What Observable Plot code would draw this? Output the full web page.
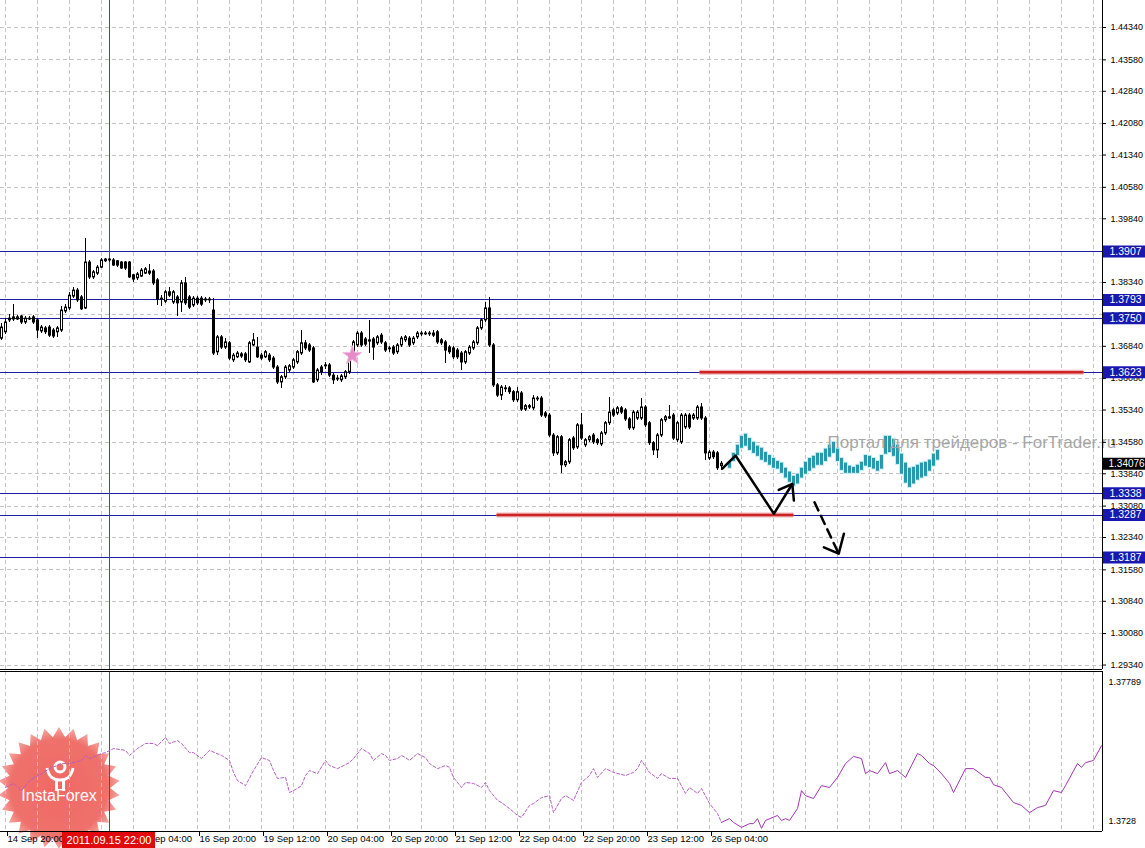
<!DOCTYPE html>
<html><head><meta charset="utf-8">
<script src="https://cdn.jsdelivr.net/npm/d3@7"></script>
<script src="https://cdn.jsdelivr.net/npm/@observablehq/plot@0.6"></script>
<style>
body{margin:0;background:#fff;}
#chart{width:1145px;height:848px;position:relative;overflow:hidden;background:#fff;}
#chart svg{display:block;}
</style></head><body><div id="chart"></div>
<script>
// ---------- DATA ----------
const firstBar = -1; // bar index of first candle (0 = 14 Sep 20:00, H1 bars)
const candleOpen = [
1.3702,1.3717,1.3745,1.3752,1.3747,1.3754,1.3740,1.3749,1.3752,1.3745,
1.3719,1.3726,1.3728,1.3721,1.3717,1.3721,1.3766,1.3773,1.3801,1.3815,
1.3799,1.3773,1.3881,1.3846,1.3855,1.3869,1.3884,1.3888,1.3886,1.3884,
1.3881,1.3881,1.3881,1.3851,1.3844,1.3848,1.3855,1.3860,1.3860,1.3839,
1.3796,1.3789,1.3811,1.3787,1.3799,1.3787,1.3832,1.3799,1.3780,1.3796,
1.3796,1.3794,1.3792,1.3768,1.3670,1.3705,1.3681,1.3691,1.3651,1.3658,
1.3665,1.3665,1.3646,1.3686,1.3681,1.3662,1.3658,1.3662,1.3655,1.3634,
1.3599,1.3611,1.3627,1.3634,1.3646,1.3667,1.3691,1.3686,1.3679,1.3604,
1.3634,1.3639,1.3639,1.3615,1.3608,1.3604,1.3611,1.3623,1.3662,1.3686,
1.3714,1.3700,1.3698,1.3700,1.3691,1.3709,1.3691,1.3679,1.3681,1.3670,
1.3686,1.3698,1.3702,1.3691,1.3705,1.3712,1.3714,1.3714,1.3714,1.3717,
1.3698,1.3693,1.3681,1.3679,1.3674,1.3667,1.3646,1.3667,1.3679,1.3691,
1.3726,1.3745,1.3773,1.3686,1.3592,1.3568,1.3585,1.3585,1.3576,1.3557,
1.3573,1.3535,1.3540,1.3538,1.3559,1.3561,1.3526,1.3521,1.3474,1.3432,
1.3470,1.3404,1.3411,1.3467,1.3446,1.3498,1.3451,1.3463,1.3474,1.3463,
1.3453,1.3479,1.3503,1.3533,1.3526,1.3538,1.3533,1.3512,1.3491,1.3514,
1.3514,1.3540,1.3503,1.3456,1.3439,1.3474,1.3510,1.3517,1.3521,1.3463,
1.3458,1.3493,1.3521,1.3514,1.3514,1.3540,1.3514,1.3420,1.3434,1.3432,
1.3402];
const candleHigh = [
1.3738,1.3749,1.3759,1.3782,1.3757,1.3757,1.3754,1.3754,1.3757,1.3749,
1.3733,1.3731,1.3733,1.3726,1.3731,1.3778,1.3782,1.3811,1.3822,1.3820,
1.3803,1.3938,1.3886,1.3862,1.3874,1.3890,1.3890,1.3890,1.3890,1.3886,
1.3884,1.3884,1.3884,1.3853,1.3858,1.3867,1.3869,1.3876,1.3865,1.3844,
1.3803,1.3815,1.3822,1.3815,1.3803,1.3839,1.3846,1.3803,1.3801,1.3801,
1.3801,1.3799,1.3799,1.3796,1.3709,1.3709,1.3702,1.3695,1.3667,1.3672,
1.3670,1.3670,1.3695,1.3714,1.3705,1.3667,1.3674,1.3667,1.3660,1.3639,
1.3615,1.3639,1.3641,1.3655,1.3674,1.3721,1.3698,1.3691,1.3684,1.3632,
1.3639,1.3646,1.3644,1.3620,1.3615,1.3618,1.3627,1.3667,1.3698,1.3719,
1.3719,1.3705,1.3745,1.3705,1.3709,1.3714,1.3695,1.3684,1.3686,1.3691,
1.3707,1.3709,1.3707,1.3707,1.3719,1.3719,1.3719,1.3719,1.3721,1.3721,
1.3702,1.3698,1.3686,1.3684,1.3679,1.3672,1.3674,1.3686,1.3698,1.3731,
1.3749,1.3787,1.3799,1.3691,1.3597,1.3592,1.3592,1.3590,1.3580,1.3587,
1.3578,1.3547,1.3547,1.3568,1.3566,1.3566,1.3531,1.3526,1.3479,1.3474,
1.3474,1.3416,1.3467,1.3472,1.3503,1.3526,1.3467,1.3474,1.3479,1.3467,
1.3484,1.3507,1.3564,1.3538,1.3543,1.3543,1.3538,1.3517,1.3533,1.3533,
1.3561,1.3545,1.3507,1.3460,1.3479,1.3514,1.3521,1.3545,1.3526,1.3507,
1.3526,1.3526,1.3526,1.3526,1.3545,1.3550,1.3519,1.3439,1.3439,1.3437,
1.3413];
const candleLow = [
1.3698,1.3712,1.3740,1.3742,1.3745,1.3735,1.3735,1.3745,1.3735,1.3702,
1.3714,1.3712,1.3705,1.3702,1.3705,1.3717,1.3761,1.3768,1.3796,1.3787,
1.3768,1.3771,1.3841,1.3841,1.3851,1.3867,1.3881,1.3881,1.3872,1.3869,
1.3865,1.3862,1.3844,1.3834,1.3839,1.3846,1.3853,1.3851,1.3827,1.3780,
1.3778,1.3785,1.3799,1.3782,1.3754,1.3764,1.3780,1.3771,1.3775,1.3780,
1.3778,1.3787,1.3785,1.3662,1.3662,1.3677,1.3677,1.3651,1.3646,1.3655,
1.3655,1.3646,1.3644,1.3684,1.3655,1.3651,1.3655,1.3646,1.3630,1.3594,
1.3585,1.3606,1.3623,1.3630,1.3641,1.3662,1.3674,1.3670,1.3597,1.3599,
1.3615,1.3630,1.3611,1.3594,1.3601,1.3599,1.3606,1.3618,1.3658,1.3681,
1.3681,1.3684,1.3667,1.3651,1.3686,1.3688,1.3670,1.3670,1.3662,1.3665,
1.3681,1.3693,1.3681,1.3686,1.3700,1.3707,1.3709,1.3707,1.3705,1.3688,
1.3686,1.3644,1.3665,1.3653,1.3653,1.3627,1.3641,1.3662,1.3674,1.3686,
1.3721,1.3740,1.3681,1.3587,1.3564,1.3557,1.3576,1.3571,1.3552,1.3552,
1.3531,1.3531,1.3535,1.3533,1.3554,1.3517,1.3514,1.3470,1.3425,1.3427,
1.3385,1.3399,1.3406,1.3439,1.3442,1.3463,1.3446,1.3458,1.3453,1.3451,
1.3449,1.3474,1.3498,1.3517,1.3521,1.3524,1.3507,1.3486,1.3486,1.3510,
1.3510,1.3493,1.3451,1.3427,1.3420,1.3470,1.3505,1.3512,1.3463,1.3458,
1.3453,1.3488,1.3488,1.3510,1.3510,1.3510,1.3416,1.3416,1.3418,1.3392,
1.3392];
const candleClose = [
1.3728,1.3740,1.3749,1.3747,1.3752,1.3740,1.3749,1.3747,1.3740,1.3721,
1.3728,1.3717,1.3709,1.3707,1.3726,1.3768,1.3775,1.3803,1.3815,1.3792,
1.3771,1.3881,1.3846,1.3858,1.3869,1.3886,1.3888,1.3886,1.3874,1.3874,
1.3867,1.3867,1.3846,1.3841,1.3853,1.3862,1.3865,1.3855,1.3832,1.3794,
1.3794,1.3811,1.3803,1.3811,1.3785,1.3832,1.3785,1.3775,1.3796,1.3785,
1.3782,1.3792,1.3794,1.3667,1.3705,1.3681,1.3693,1.3655,1.3662,1.3667,
1.3660,1.3651,1.3691,1.3698,1.3658,1.3655,1.3670,1.3651,1.3634,1.3599,
1.3611,1.3634,1.3637,1.3651,1.3670,1.3691,1.3679,1.3674,1.3599,1.3627,
1.3623,1.3637,1.3615,1.3604,1.3606,1.3613,1.3623,1.3662,1.3693,1.3714,
1.3686,1.3688,1.3695,1.3681,1.3705,1.3693,1.3674,1.3677,1.3667,1.3686,
1.3702,1.3705,1.3686,1.3702,1.3714,1.3714,1.3712,1.3712,1.3709,1.3693,
1.3691,1.3674,1.3670,1.3658,1.3658,1.3646,1.3670,1.3681,1.3693,1.3726,
1.3745,1.3773,1.3686,1.3592,1.3568,1.3587,1.3583,1.3576,1.3557,1.3576,
1.3535,1.3543,1.3543,1.3561,1.3561,1.3521,1.3519,1.3474,1.3432,1.3470,
1.3404,1.3411,1.3463,1.3444,1.3498,1.3467,1.3463,1.3470,1.3458,1.3456,
1.3479,1.3503,1.3528,1.3521,1.3538,1.3528,1.3512,1.3491,1.3528,1.3528,
1.3540,1.3498,1.3456,1.3439,1.3474,1.3510,1.3517,1.3514,1.3467,1.3503,
1.3521,1.3521,1.3493,1.3521,1.3540,1.3514,1.3432,1.3434,1.3423,1.3397,
1.34076];

// projected path (teal bars)
const tealFirstBar = 181;
const tealHigh = [
1.3411,1.3432,1.3451,1.3472,1.3477,1.3467,1.3458,1.3449,1.3444,1.3434,
1.3427,1.3420,1.3413,1.3409,1.3397,1.3388,1.3378,1.3383,1.3397,1.3411,
1.3420,1.3425,1.3432,1.3432,1.3442,1.3451,1.3458,1.3442,1.3420,1.3409,
1.3402,1.3399,1.3404,1.3411,1.3427,1.3425,1.3420,1.3413,1.3427,1.3472,
1.3472,1.3465,1.3451,1.3430,1.3409,1.3397,1.3399,1.3404,1.3409,1.3411,
1.3416,1.3430,1.3439];
const tealLow = [
1.3397,1.3413,1.3427,1.3444,1.3449,1.3439,1.3432,1.3425,1.3416,1.3411,
1.3404,1.3397,1.3395,1.3385,1.3374,1.3364,1.3355,1.3360,1.3374,1.3383,
1.3390,1.3397,1.3404,1.3404,1.3413,1.3423,1.3432,1.3413,1.3392,1.3385,
1.3385,1.3385,1.3385,1.3392,1.3402,1.3399,1.3395,1.3390,1.3395,1.3430,
1.3434,1.3425,1.3406,1.3383,1.3362,1.3352,1.3360,1.3369,1.3374,1.3378,
1.3390,1.3402,1.3416];

// indicator (lower panel)
const indBar = [0,2,4,6,9,11,14,16,19,20,21,24,25,27,30,31,33,35,37,38,40,41,43,44,46,47,49,51,54,56,57,58,60,62,64,66,67,68,70,71,73,74,75,76,78,80,81,83,86,87,89,91,92,94,95,96,98,99,100,101,103,105,106,108,110,111,112,114,115,117,119,120,121,123,124,126,128,129,131,132,134,136,137,139,140,142,144,146,147,148,150,152,155,157,158,159,161,163,164,166,168,170,171,173,174,176,178,179,181,182,184,186,187,188,189,190,193,194,195,196,198,199,200,202,204,206,208,210,212,214,215,216,218,220,221,223,225,228,229,231,232,234,236,237,240,242,245,246,247,249,252,254,256,258,260,262,264,265,268,269,270,272,274];
const indValue = [1.37420,1.37433,1.37410,1.37442,1.37464,1.37480,1.37496,1.37496,1.37506,1.37522,1.37512,1.37528,1.37531,1.37544,1.37538,1.37522,1.37544,1.37560,1.37560,1.37553,1.37579,1.37560,1.37569,1.37560,1.37531,1.37531,1.37512,1.37538,1.37522,1.37506,1.37468,1.37442,1.37426,1.37474,1.37515,1.37506,1.37474,1.37449,1.37452,1.37404,1.37417,1.37426,1.37458,1.37474,1.37464,1.37506,1.37490,1.37480,1.37499,1.37512,1.37544,1.37528,1.37506,1.37528,1.37522,1.37506,1.37512,1.37522,1.37515,1.37506,1.37528,1.37515,1.37496,1.37480,1.37490,1.37484,1.37452,1.37420,1.37436,1.37433,1.37420,1.37436,1.37410,1.37379,1.37372,1.37353,1.37331,1.37325,1.37363,1.37369,1.37388,1.37394,1.37340,1.37385,1.37394,1.37379,1.37436,1.37458,1.37480,1.37452,1.37480,1.37468,1.37458,1.37468,1.37480,1.37506,1.37468,1.37449,1.37464,1.37449,1.37449,1.37401,1.37420,1.37401,1.37417,1.37369,1.37337,1.37309,1.37321,1.37309,1.37293,1.37305,1.37305,1.37321,1.37290,1.37315,1.37331,1.37315,1.37321,1.37315,1.37353,1.37410,1.37394,1.37385,1.37426,1.37420,1.37452,1.37496,1.37519,1.37512,1.37464,1.37474,1.37464,1.37499,1.37464,1.37474,1.37452,1.37528,1.37522,1.37496,1.37490,1.37464,1.37433,1.37404,1.37480,1.37480,1.37452,1.37452,1.37429,1.37420,1.37372,1.37363,1.37340,1.37356,1.37363,1.37410,1.37404,1.37426,1.37496,1.37484,1.37499,1.37506,1.37553];
const indDashedUntil = 179;
const indScaleTop = 1.37789, indScaleBottom = 1.3728;

// levels and annotations
const priceTicks = [1.44340,1.43580,1.42840,1.42080,1.41340,1.40580,1.39840,1.39080,1.38340,1.37580,1.36840,1.36080,1.35340,1.34580,1.33840,1.33080,1.32340,1.31580,1.30840,1.30080,1.29340];
const levelPrices = [1.3907,1.3793,1.3750,1.3623,1.3338,1.3287,1.3187];
const currentPrice = 1.34076;
const redLevelPrice = [1.3623, 1.3287];
const redLevelFrom = [173.5, 122.75];
const redLevelTo = [269.5, 197];
const solidArrowBar = [179.2, 182.5, 192.1, 196.7];
const solidArrowPrice = [1.3396, 1.3427, 1.3290, 1.3360];
const solidHeadBar = [193.3, 196.7, 197.1];
const solidHeadPrice = [1.3346, 1.3360, 1.3321];
const dashArrowBar = [202.25, 208.3];
const dashArrowPrice = [1.3317, 1.3196];
const dashHeadBar = [204.6, 208.3, 209.6];
const dashHeadPrice = [1.3211, 1.3196, 1.3243];
const starBar = 86.7, starPrice = 1.3662;
const timeLabelBars = [0,16,32,48,64,80,96,112,128,144,160,176];
const timeLabels = ["14 Sep 20:00","15 Sep 12:00","16 Sep 04:00","16 Sep 20:00","19 Sep 12:00","20 Sep 04:00","20 Sep 20:00","21 Sep 12:00","22 Sep 04:00","22 Sep 20:00","23 Sep 12:00","26 Sep 04:00"];
const gridStep = 8, lastBar = 274;
const markerBar = 26, markerLabel = "2011.09.15 22:00";
const watermark = "Портал для трейдеров - ForTrader.ru";

// ---------- BUILD ----------
const n = Math.min(candleOpen.length, candleHigh.length, candleLow.length, candleClose.length);
const candles = d3.range(n).map(k => ({i: firstBar + k, o: candleOpen[k], h: candleHigh[k], l: candleLow[k], c: candleClose[k]}));
const bull = candles.filter(d => d.c > d.o);
const teal = tealHigh.map((h, k) => ({i: tealFirstBar + k, h, l: tealLow[k]}));
const indicator = indBar.map((b, k) => ({i: b, v: indValue[k]}));
const redLevels = redLevelPrice.map((p, k) => ({p, from: redLevelFrom[k], to: redLevelTo[k]}));
const solidArrow = [
  ...solidArrowBar.map((b, k) => ({g: "a", x: b, y: solidArrowPrice[k]})),
  ...solidHeadBar.map((b, k) => ({g: "b", x: b, y: solidHeadPrice[k]}))];
const dashArrow = dashArrowBar.map((b, k) => ({x: b, y: dashArrowPrice[k]}));
const dashHead = dashHeadBar.map((b, k) => ({x: b, y: dashHeadPrice[k]}));
const gridBars = d3.range(0, lastBar, gridStep);
const labelMap = new Map(timeLabelBars.map((b, k) => [b, timeLabels[k]]));

const xDomain = [-1.25, 274.25];
const yDomain = [1.29235, 1.44976];
const font = "'Liberation Sans', Arial, sans-serif";
const gridStyle = {stroke: "#c4c4c4", strokeOpacity: 1, strokeDasharray: "4,3", shapeRendering: "crispEdges"};
const navy = "#1c1ca6", boxBlue = "#1818b0", markerRed = "#d41c1c";
const crisp = {shapeRendering: "crispEdges"};

const main = Plot.plot({
  width: 1145, height: 670,
  marginLeft: 0, marginRight: 43, marginTop: 0, marginBottom: 1,
  style: {fontFamily: font, fontSize: "9px", background: "white", color: "black"},
  x: {type: "linear", domain: xDomain, axis: null},
  y: {type: "linear", domain: yDomain, axis: null},
  marks: [
    Plot.gridX(gridBars, gridStyle),
    Plot.gridY(priceTicks, gridStyle),
    Plot.ruleY(levelPrices, {stroke: navy, strokeWidth: 1, ...crisp}),
    Plot.ruleX([markerBar], {stroke: markerRed, ...crisp}),
    Plot.link(redLevels, {x1: "from", x2: "to", y1: "p", y2: "p", stroke: "#f2b5b5", strokeWidth: 5}),
    Plot.link(redLevels, {x1: "from", x2: "to", y1: "p", y2: "p", stroke: "#cc2424", strokeWidth: 2.5}),
    Plot.ruleX(candles, {x: "i", y1: "l", y2: "h", stroke: "black", strokeWidth: 1, ...crisp}),
    Plot.rect(candles, {x1: d => d.i - 0.25, x2: d => d.i + 0.5, y1: "o", y2: "c", fill: "black", insetTop: -0.5, insetBottom: -0.5}),
    Plot.rect(bull, {x1: d => d.i - 0.25, x2: d => d.i + 0.5, y1: "o", y2: "c", fill: "white", inset: 1}),
    Plot.rect(teal, {x1: d => d.i - 0.5, x2: d => d.i + 0.75, y1: "l", y2: "h", fill: "#c6eef4", insetTop: -1, insetBottom: -1}),
    Plot.rect(teal, {x1: d => d.i - 0.25, x2: d => d.i + 0.5, y1: "l", y2: "h", fill: "#2a98ac"}),
    Plot.dot([{x: starBar, y: starPrice}], {x: "x", y: "y", symbol: "star", r: 6, fill: "#e68ccb", stroke: "#f3b8de", strokeWidth: 1}),
    Plot.line(solidArrow, {x: "x", y: "y", z: "g", stroke: "black", strokeWidth: 2.5}),
    Plot.line(dashArrow, {x: "x", y: "y", stroke: "black", strokeWidth: 2.5, strokeDasharray: "9,6"}),
    Plot.line(dashHead, {x: "x", y: "y", stroke: "black", strokeWidth: 2.5}),
    Plot.text([watermark], {frameAnchor: "top-left", dx: 827, dy: 435, textAnchor: "start", fill: "#a6a6a6", fontSize: 17, fontFamily: font}),
    Plot.axisY({anchor: "right", label: null, ticks: priceTicks, tickFormat: d3.format(".5f"), tickSize: 3, tickPadding: 5, fontSize: 9, fontFamily: font}),
    Plot.ruleX([xDomain[1]], {stroke: "black", ...crisp}),
    Plot.ruleY([yDomain[0]], {stroke: "black", ...crisp}),
    Plot.ruleY(levelPrices, {x1: xDomain[1] + 0.25, x2: xDomain[1] + 11, stroke: boxBlue, strokeWidth: 12}),
    Plot.text(levelPrices, {x: xDomain[1], y: d => d, text: d => d.toFixed(4), dx: 7, textAnchor: "start", fill: "white", fontSize: 10.5, fontFamily: font}),
    Plot.ruleY([currentPrice], {x1: xDomain[1] + 0.25, x2: xDomain[1] + 11, stroke: "black", strokeWidth: 12}),
    Plot.text([currentPrice], {x: xDomain[1], y: d => d, text: d => d.toFixed(5), dx: 6, textAnchor: "start", fill: "white", fontSize: 10, fontFamily: font})
  ]
});

const ind = Plot.plot({
  width: 1145, height: 178,
  marginLeft: 0, marginRight: 43, marginTop: 1, marginBottom: 17,
  style: {fontFamily: font, fontSize: "9px", background: "transparent", color: "black", overflow: "visible"},
  x: {type: "linear", domain: xDomain, axis: null},
  y: {type: "linear", domain: [indScaleBottom, indScaleTop], axis: null},
  marks: [
    Plot.gridX(gridBars, gridStyle),
    Plot.ruleX([markerBar], {stroke: markerRed, ...crisp}),
    Plot.line(indicator.filter(d => d.i <= indDashedUntil), {x: "i", y: "v", stroke: "#b45ec0", strokeWidth: 1, strokeDasharray: "3,2"}),
    Plot.line(indicator.filter(d => d.i >= indDashedUntil), {x: "i", y: "v", stroke: "#a436b4", strokeWidth: 1}),
    Plot.ruleY([indScaleTop], {stroke: "black", ...crisp}),
    Plot.ruleY([indScaleBottom], {stroke: "black", ...crisp}),
    Plot.ruleX([xDomain[1]], {stroke: "black", ...crisp}),
    Plot.axisX({anchor: "bottom", label: null, ticks: timeLabelBars, tickFormat: d => labelMap.get(d), textAnchor: "start", dx: 2, tickSize: 5, tickPadding: -1, fontSize: 9.5, fontFamily: font}),
    Plot.text([indScaleTop], {frameAnchor: "top-right", dx: 6, dy: 7, text: d => d.toFixed(5), textAnchor: "start", fontSize: 9, fontFamily: font}),
    Plot.text([indScaleBottom], {frameAnchor: "bottom-right", dx: 6, dy: -8, text: d => d.toFixed(4), textAnchor: "start", fontSize: 9, fontFamily: font})
  ]
});

const chart = document.getElementById("chart");
chart.appendChild(main);
chart.appendChild(ind);

// ---- decorations on lower panel: logo behind, marker date box on top ----
const s2 = d3.select(ind);
const xs = ind.scale("x");
const defs = s2.insert("defs", "g");
const grad = defs.append("radialGradient").attr("id", "logoGrad");
grad.append("stop").attr("offset", "0%").attr("stop-color", "#f0625c");
grad.append("stop").attr("offset", "80%").attr("stop-color", "#ef6a64");
grad.append("stop").attr("offset", "100%").attr("stop-color", "#f5a39e");
const logo = s2.insert("g", "g").attr("opacity", 0.95);
const cx = 59, cy = 118, spikes = 26;
const pts = d3.range(spikes * 2).map(k => {
  const r = k % 2 ? 51 : 61;
  const a = k * Math.PI / spikes - Math.PI / 2;
  return [cx + r * Math.cos(a), cy + r * Math.sin(a)];
});
logo.append("polygon").attr("points", pts.map(p => p.join(",")).join(" ")).attr("fill", "url(#logoGrad)");
logo.append("circle").attr("cx", cx + 1).attr("cy", cy - 21).attr("r", 5).attr("fill", "none").attr("stroke", "white").attr("stroke-width", 3);
logo.append("path").attr("d", `M${cx-12},${cy-20} C${cx-10},${cy-10} ${cx-5},${cy-8} ${cx+1},${cy-8} C${cx+7},${cy-8} ${cx+12},${cy-10} ${cx+14},${cy-20}`)
  .attr("fill", "none").attr("stroke", "white").attr("stroke-width", 3);
logo.append("rect").attr("x", cx - 4).attr("y", cy - 9).attr("width", 3).attr("height", 12).attr("fill", "white");
logo.append("rect").attr("x", cx + 3).attr("y", cy - 9).attr("width", 3).attr("height", 12).attr("fill", "white");
logo.append("text").attr("x", cx).attr("y", cy + 13).attr("text-anchor", "middle").attr("fill", "white")
  .attr("font-family", font).attr("font-size", 16).text("InstaForex");

const mx = xs.apply(markerBar);
s2.append("rect").attr("x", mx - 47).attr("y", 162).attr("width", 93).attr("height", 16).attr("fill", "#e10a0a");
s2.append("text").attr("x", mx).attr("y", 170).attr("dy", "0.35em").attr("text-anchor", "middle").attr("fill", "white")
  .attr("font-family", font).attr("font-size", 11).text(markerLabel);
</script>
</body></html>
